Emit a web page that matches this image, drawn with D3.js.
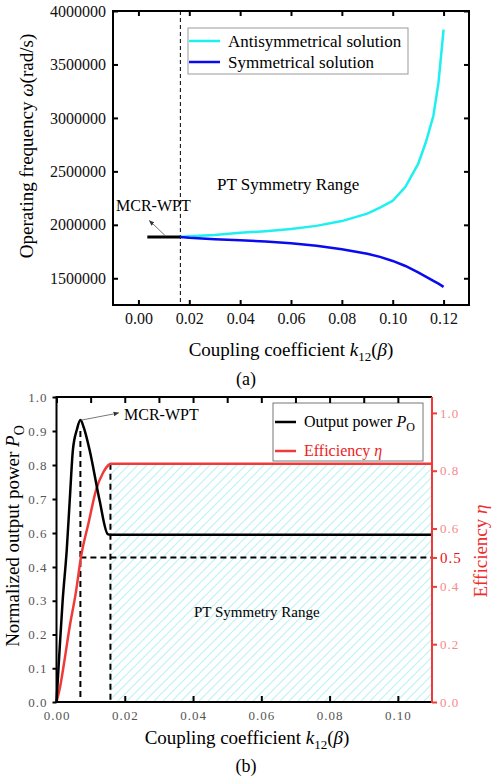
<!DOCTYPE html>
<html>
<head>
<meta charset="utf-8">
<script src="https://cdn.jsdelivr.net/npm/d3@7"></script>
<style>
body{margin:0;background:#fff}
svg{display:block}
svg text{font-family:"Liberation Serif","Times New Roman",serif}
</style>
</head>
<body>
<svg id="vis" width="492" height="781"></svg>
<script>
/**
 * Data
 */
// (a) operating frequency vs coupling coefficient
var kSolution = [0.0165, 0.02, 0.03, 0.04, 0.05, 0.06, 0.07, 0.08, 0.09, 0.095, 0.1, 0.105, 0.11, 0.113, 0.116, 0.118, 0.12];
var antisymOmega = [1887000, 1893000, 1905000, 1925000, 1940000, 1960000, 1990000, 2035000, 2105000, 2160000, 2225000, 2355000, 2570000, 2770000, 3020000, 3330000, 3826000];
var symOmega = [1887000, 1878000, 1865000, 1855000, 1843000, 1828000, 1805000, 1772000, 1730000, 1700000, 1662000, 1615000, 1555000, 1515000, 1475000, 1450000, 1420000];
var kMcr = [0.0035, 0.0165];
var omegaMcr = [1887000, 1887000];
var kTicksA = [0, 0.02, 0.04, 0.06, 0.08, 0.10, 0.12];
var omegaTicks = [1500000, 2000000, 2500000, 3000000, 3500000, 4000000];
var kSplit = 0.0165;

// (b) normalized output power and efficiency
var kPower = [0, 0.0009, 0.0018, 0.003, 0.0039, 0.0048, 0.006, 0.007, 0.008, 0.0097, 0.0126, 0.015, 0.0158, 0.11];
var power = [0, 0.154, 0.3, 0.5, 0.7, 0.844, 0.905, 0.932, 0.91, 0.844, 0.697, 0.594, 0.59, 0.59];
var kEff = [0, 0.00088, 0.00235, 0.0038, 0.0056, 0.0073, 0.0094, 0.0116, 0.0136, 0.0155, 0.0158, 0.11];
var efficiency = [0, 0.042, 0.145, 0.256, 0.374, 0.51, 0.62, 0.734, 0.792, 0.822, 0.824, 0.824];
var powerTicks = [0, 0.1, 0.2, 0.3, 0.4, 0.6, 0.7, 0.8, 0.9, 1.0];
var effTicks = [0, 0.2, 0.4, 0.5, 0.6, 0.8, 1.0];
var kTicksB = [0, 0.02, 0.04, 0.06, 0.08, 0.10];
var kTopTicksB = [0, 0.01, 0.02, 0.03, 0.04, 0.05, 0.06, 0.07, 0.08, 0.09, 0.10];
var kPeak = 0.007, peakPower = 0.932;
var kPT = 0.0158, effPlateau = 0.824, effHalf = 0.5;

const SERIF = '"Liberation Serif", "Times New Roman", serif';
const A = {left:113, right:469, top:11, bottom:305};
const B = {left:56.5, right:432, top:397, bottom:702};
const RED = "#f03a3a";

var svg = d3.select("#vis");

/* ---------------- chart (a) ---------------- */
var xA = d3.scaleLinear().domain([-0.01, 0.13]).range([A.left, A.right]);
var yA = d3.scaleLinear().domain([1250000, 4000000]).range([A.bottom, A.top]);
var gA = svg.append("g");

// dashed divider
gA.append("line")
    .attr("x1", xA(kSplit)).attr("x2", xA(kSplit))
    .attr("y1", A.top).attr("y2", A.bottom)
    .attr("stroke", "#000").attr("stroke-width", 1).attr("stroke-dasharray", "4,3");

var lineA = d3.line().x(d => xA(d[0])).y(d => yA(d[1]));
gA.append("path").datum(d3.zip(kSolution, antisymOmega))
    .attr("d", lineA).attr("fill", "none").attr("stroke", "#1ef0f0").attr("stroke-width", 2.5);
gA.append("path").datum(d3.zip(kSolution, symOmega))
    .attr("d", lineA).attr("fill", "none").attr("stroke", "#0a0af0").attr("stroke-width", 2.5);
gA.append("path").datum(d3.zip(kMcr, omegaMcr))
    .attr("d", lineA).attr("fill", "none").attr("stroke", "#000").attr("stroke-width", 3);

// arrowheads
var defs = svg.append("defs");
defs.append("marker").attr("id", "arrow")
    .attr("viewBox", "0 0 10 10").attr("refX", 9).attr("refY", 5)
    .attr("markerWidth", 7).attr("markerHeight", 7).attr("orient", "auto")
    .append("path").attr("d", "M0,1 L10,5 L0,9 Z").attr("fill", "#333");

gA.append("line")
    .attr("x1", xA(0.0106)).attr("y1", yA(1897000))
    .attr("x2", xA(0.0043)).attr("y2", yA(2040000))
    .attr("stroke", "#555").attr("stroke-width", 0.8).attr("marker-end", "url(#arrow)");
gA.append("text").attr("x", 116).attr("y", 211).attr("font-size", 16).text("MCR-WPT");
gA.append("text").attr("x", 217).attr("y", 190).attr("font-size", 17).text("PT Symmetry Range");

// axes
function styleAxis(g, size, color){
    g.attr("font-family", null).attr("font-size", size);
    g.select(".domain").remove();
    g.selectAll(".tick line").attr("stroke", color).attr("stroke-width", 2);
}
var axA = [
    gA.append("g").attr("transform", `translate(0,${A.bottom})`)
        .call(d3.axisBottom(xA).tickValues(kTicksA).tickSize(-5).tickPadding(8).tickFormat(d3.format(".2f"))),
    gA.append("g").attr("transform", `translate(0,${A.top})`)
        .call(d3.axisTop(xA).tickValues(kTicksA).tickSize(-5).tickFormat("")),
    gA.append("g").attr("transform", `translate(${A.left},0)`)
        .call(d3.axisLeft(yA).tickValues(omegaTicks).tickSize(-5).tickPadding(7).tickFormat(d3.format("d"))),
    gA.append("g").attr("transform", `translate(${A.right},0)`)
        .call(d3.axisRight(yA).tickValues(omegaTicks).tickSize(-5).tickFormat(""))
];
axA.forEach(g => { styleAxis(g, 16, "#000"); g.selectAll("text").attr("fill", "#111"); });

gA.append("rect").attr("x", A.left).attr("y", A.top)
    .attr("width", A.right - A.left).attr("height", A.bottom - A.top)
    .attr("fill", "none").attr("stroke", "#000").attr("stroke-width", 2);

// legend (a)
var legA = gA.append("g");
legA.append("rect").attr("x", 188).attr("y", 28).attr("width", 220).attr("height", 46)
    .attr("fill", "#fff").attr("stroke", "#999").attr("stroke-width", 1);
[["Antisymmetrical solution", "#1ef0f0", 41], ["Symmetrical solution", "#0a0af0", 62]].forEach(function(e){
    legA.append("line").attr("x1", 189).attr("x2", 220).attr("y1", e[2]).attr("y2", e[2])
        .attr("stroke", e[1]).attr("stroke-width", 2.5);
    legA.append("text").attr("x", 228).attr("y", e[2] + 6).attr("font-size", 17).text(e[0]);
});

// titles (a)
var yTitleA = gA.append("text").attr("transform", "translate(33,146) rotate(-90)")
    .attr("text-anchor", "middle").attr("font-size", 19);
yTitleA.append("tspan").text("Operating frequency ");
yTitleA.append("tspan").attr("font-style", "italic").text("ω");
yTitleA.append("tspan").text("(rad/s)");

function kTitle(g, x, y){
    var t = g.append("text").attr("x", x).attr("y", y).attr("text-anchor", "middle").attr("font-size", 19);
    t.append("tspan").text("Coupling coefficient ");
    t.append("tspan").attr("font-style", "italic").text("k");
    t.append("tspan").attr("font-size", 13).attr("dy", 5).text("12");
    t.append("tspan").attr("dy", -5).text("(");
    t.append("tspan").attr("font-style", "italic").text("β");
    t.append("tspan").text(")");
}
kTitle(gA, 291, 356);
gA.append("text").attr("x", 246).attr("y", 385).attr("text-anchor", "middle").attr("font-size", 18).text("(a)");

/* ---------------- chart (b) ---------------- */
var xB = d3.scaleLinear().domain([0, 0.11]).range([B.left, B.right]);
// left axis of the original skips the 0.5 label, so the scale is piecewise
var yP = d3.scaleLinear().domain([0, 0.4, 0.6, 1.0]).range([B.bottom, 567, 533, B.top]);
var yE = d3.scaleLinear().domain([0, 1.055]).range([B.bottom, B.top]);
var gB = svg.append("g");

var pat = defs.append("pattern").attr("id", "hatch")
    .attr("patternUnits", "userSpaceOnUse").attr("width", 9).attr("height", 9);
pat.append("path").attr("d", "M0,9 L9,0 M-2,2 L2,-2 M7,11 L11,7")
    .attr("stroke", "#bdf2f6").attr("stroke-width", 1.2);

gB.append("rect").attr("x", xB(kPT)).attr("y", yE(effPlateau))
    .attr("width", B.right - xB(kPT)).attr("height", B.bottom - yE(effPlateau))
    .attr("fill", "url(#hatch)");

gB.append("text").attr("x", 194).attr("y", 617).attr("font-size", 15).text("PT Symmetry Range");

// dashed guides
function dashLine(x1, y1, x2, y2){
    gB.append("line").attr("x1", x1).attr("y1", y1).attr("x2", x2).attr("y2", y2)
        .attr("stroke", "#000").attr("stroke-width", 2).attr("stroke-dasharray", "6,4");
}
dashLine(xB(kPeak), yP(0.9), xB(kPeak), B.bottom);
dashLine(xB(kPT), yE(effPlateau), xB(kPT), B.bottom);
dashLine(xB(kPeak), yE(effHalf), B.right, yE(effHalf));

gB.append("path").datum(d3.zip(kEff, efficiency))
    .attr("d", d3.line().x(d => xB(d[0])).y(d => yE(d[1])).curve(d3.curveMonotoneX))
    .attr("fill", "none").attr("stroke", RED).attr("stroke-width", 2.5);
gB.append("path").datum(d3.zip(kPower, power))
    .attr("d", d3.line().x(d => xB(d[0])).y(d => yP(d[1])).curve(d3.curveMonotoneX))
    .attr("fill", "none").attr("stroke", "#000").attr("stroke-width", 2.5);

// annotation (b)
gB.append("line")
    .attr("x1", xB(kPeak) + 1).attr("y1", yP(peakPower))
    .attr("x2", xB(0.0182)).attr("y2", yP(0.953))
    .attr("stroke", "#555").attr("stroke-width", 0.8).attr("marker-end", "url(#arrow)");
gB.append("text").attr("x", 124).attr("y", 420).attr("font-size", 16).text("MCR-WPT");

// legend (b)
var legB = gB.append("g");
legB.append("rect").attr("x", 273).attr("y", 403).attr("width", 150).attr("height", 58)
    .attr("fill", "#fff").attr("stroke", "#777").attr("stroke-width", 1);
legB.append("line").attr("x1", 275).attr("x2", 296).attr("y1", 422).attr("y2", 422)
    .attr("stroke", "#000").attr("stroke-width", 2.5);
var lt1 = legB.append("text").attr("x", 304).attr("y", 427).attr("font-size", 16);
lt1.append("tspan").text("Output power ");
lt1.append("tspan").attr("font-style", "italic").text("P");
lt1.append("tspan").attr("font-size", 12).attr("dy", 4).text("O");
legB.append("line").attr("x1", 275).attr("x2", 296).attr("y1", 451).attr("y2", 451)
    .attr("stroke", RED).attr("stroke-width", 2.5);
var lt2 = legB.append("text").attr("x", 304).attr("y", 456).attr("font-size", 16).attr("fill", "#ee2222");
lt2.append("tspan").text("Efficiency ");
lt2.append("tspan").attr("font-style", "italic").text("η");

// axes (b)
var axBottom = gB.append("g").attr("transform", `translate(0,${B.bottom})`)
    .call(d3.axisBottom(xB).tickValues(kTicksB).tickSize(-6).tickPadding(9).tickFormat(d3.format(".2f")));
var axTop = gB.append("g").attr("transform", `translate(0,${B.top})`)
    .call(d3.axisTop(xB).tickValues(kTopTicksB).tickSize(-6).tickFormat(""));
var axLeft = gB.append("g").attr("transform", `translate(${B.left},0)`)
    .call(d3.axisLeft(yP).tickValues(powerTicks).tickSize(4).tickPadding(5).tickFormat(d3.format(".1f")));
var axRight = gB.append("g").attr("transform", `translate(${B.right},0)`)
    .call(d3.axisRight(yE).tickValues(effTicks).tickSize(5).tickPadding(3).tickFormat(d3.format(".1f")));
[axBottom, axTop, axLeft].forEach(g => {
    styleAxis(g, 13, "#000");
    g.selectAll("text").attr("fill", "#555").attr("letter-spacing", 1);
});
styleAxis(axRight, 13, RED);
axRight.selectAll("text").attr("fill", d => d === effHalf ? "#e81010" : "#f48a8a")
    .attr("letter-spacing", 1)
    .attr("font-size", d => d === effHalf ? 15 : 13);

// frame (b)
gB.append("path").attr("d", `M${B.right},${B.top}H${B.left}V${B.bottom}H${B.right}`)
    .attr("fill", "none").attr("stroke", "#000").attr("stroke-width", 2);
gB.append("line").attr("x1", B.right).attr("x2", B.right).attr("y1", B.top).attr("y2", B.bottom + 1)
    .attr("stroke", RED).attr("stroke-width", 2);

// titles (b)
var yTitleB = gB.append("text").attr("transform", "translate(19,536) rotate(-90)")
    .attr("text-anchor", "middle").attr("font-size", 19);
yTitleB.append("tspan").text("Normalized output power ");
yTitleB.append("tspan").attr("font-style", "italic").text("P");
yTitleB.append("tspan").attr("font-size", 14).attr("dy", 5).text("O");

var yTitleR = gB.append("text").attr("transform", "translate(487,551) rotate(-90)")
    .attr("text-anchor", "middle").attr("font-size", 19).attr("fill", "#ee2c2c");
yTitleR.append("tspan").text("Efficiency ");
yTitleR.append("tspan").attr("font-style", "italic").text("η");

kTitle(gB, 247, 744);
gB.append("text").attr("x", 246).attr("y", 772).attr("text-anchor", "middle").attr("font-size", 18).text("(b)");
</script>
</body>
</html>
